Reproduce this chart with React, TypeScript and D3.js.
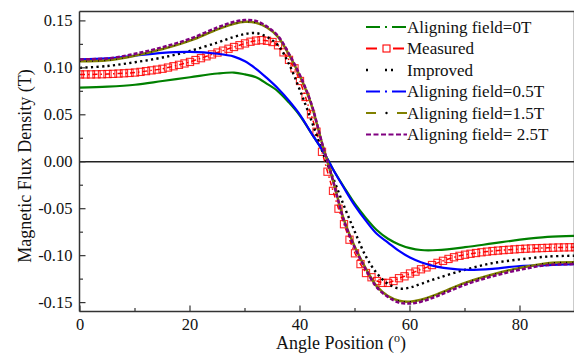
import React from "react";
import * as d3 from "d3";

const angles5 = [0, 5, 10, 15, 20, 25, 28, 30, 32, 34, 36, 38, 40, 42, 44, 45, 46, 48, 50, 52, 54, 56, 58, 60, 62, 65, 70, 75, 80, 85, 90];
const field0T = [0.079, 0.080, 0.082, 0.086, 0.090, 0.094, 0.095, 0.093, 0.090, 0.083, 0.075, 0.063, 0.049, 0.031, 0.013, 0.003, -0.008, -0.027, -0.045, -0.060, -0.073, -0.082, -0.088, -0.092, -0.094, -0.094, -0.091, -0.087, -0.083, -0.080, -0.079];
const field05T = [0.109, 0.110, 0.113, 0.116, 0.117, 0.115, 0.112, 0.107, 0.099, 0.089, 0.078, 0.065, 0.050, 0.031, 0.013, 0.003, -0.008, -0.028, -0.047, -0.063, -0.077, -0.086, -0.095, -0.102, -0.107, -0.112, -0.115, -0.114, -0.111, -0.110, -0.109];
const improved = [0.100, 0.102, 0.106, 0.111, 0.118, 0.127, 0.133, 0.136, 0.137, 0.133, 0.124, 0.104, 0.076, 0.045, 0.012, -0.003, -0.017, -0.047, -0.075, -0.101, -0.119, -0.130, -0.135, -0.134, -0.130, -0.124, -0.115, -0.108, -0.104, -0.101, -0.100];
const field15T = [0.107, 0.108, 0.113, 0.120, 0.129, 0.141, 0.147, 0.149, 0.148, 0.143, 0.133, 0.114, 0.091, 0.062, 0.020, 0.000, -0.020, -0.062, -0.091, -0.114, -0.133, -0.143, -0.148, -0.149, -0.147, -0.141, -0.129, -0.120, -0.113, -0.108, -0.107];
const field25T = [0.109, 0.110, 0.115, 0.122, 0.131, 0.143, 0.149, 0.151, 0.150, 0.144, 0.134, 0.115, 0.092, 0.063, 0.020, 0.000, -0.020, -0.063, -0.092, -0.115, -0.134, -0.144, -0.150, -0.151, -0.149, -0.143, -0.131, -0.122, -0.115, -0.110, -0.109];

const measuredAngles = d3.range(0, 91);
const measured = [
  0.0930, 0.0930, 0.0930, 0.0931, 0.0932, 0.0934, 0.0936, 0.0939, 0.0942, 0.0946,
  0.0950, 0.0957, 0.0965, 0.0973, 0.0981, 0.0990, 0.1003, 0.1017, 0.1032, 0.1047,
  0.1063, 0.1083, 0.1103, 0.1123, 0.1143, 0.1163, 0.1183, 0.1203, 0.1222, 0.1241,
  0.1260, 0.1278, 0.1290, 0.1295, 0.1288, 0.1275, 0.1240, 0.1165, 0.1085, 0.0995,
  0.0860, 0.0690, 0.0505, 0.0320, 0.0106, -0.0106, -0.0310, -0.0500, -0.0665, -0.0830,
  -0.0975, -0.1090, -0.1185, -0.1230, -0.1270, -0.1290, -0.1290, -0.1270, -0.1240, -0.1220,
  -0.1190, -0.1170, -0.1145, -0.1125, -0.1100, -0.1077, -0.1055, -0.1035, -0.1017, -0.1002,
  -0.0990, -0.0980, -0.0972, -0.0964, -0.0957, -0.0951, -0.0946, -0.0941, -0.0937, -0.0933,
  -0.0929, -0.0926, -0.0923, -0.0921, -0.0919, -0.0917, -0.0915, -0.0913, -0.0912, -0.0911,
  -0.0910,
];

const yTicks = [0.15, 0.10, 0.05, 0.0, -0.05, -0.10, -0.15];
const yMinor = [0.125, 0.075, 0.025, -0.025, -0.075, -0.125];
const xTicks = [0, 20, 40, 60, 80];
const xMinor = [10, 30, 50, 70, 90];
const legendLabels = ["Aligning field=0T", "Measured", "Improved", "Aligning field=0.5T", "Aligning field=1.5T", "Aligning field= 2.5T"];

const W = 574, H = 356;
const L = 79.5, R = 575, T = 11.5, B = 311.5;
const FONT = "Liberation Serif";

export default function App() {
  const x = d3.scaleLinear().domain([0, 90]).range([80, R]);
  const y = d3.scaleLinear().domain([-0.16, 0.16]).range([312, 11.5]);
  const line = (xs: number[], ys: number[]) =>
    d3.line<number>().x((_, i) => x(xs[i])).y((v) => y(v)).curve(d3.curveCatmullRom)(ys) || "";
  const linLine = (xs: number[], ys: number[]) =>
    d3.line<number>().x((_, i) => x(xs[i])).y((v) => y(v))(ys) || "";

  const green = "#008000", red = "#ff0000", blue = "#0000ff", olive = "#808000", purple = "#800080";
  const ly = (i: number) => 27 + i * 21.5;
  const lx0 = 366, lx1 = 407;
  const ts = { fontFamily: FONT } as React.CSSProperties;

  return (
    <svg width={W} height={H} style={{ position: "absolute", left: 0, top: 0, background: "#fff", fontFamily: FONT }}>
      <defs>
        <clipPath id="plot">
          <rect x={L} y={T} width={R - L} height={B - T} />
        </clipPath>
      </defs>
      <rect x={0} y={0} width={W} height={H} fill="#fff" />
      <line x1={L} x2={R} y1={y(0)} y2={y(0)} stroke="#222" strokeWidth={1.5} />
      <g clipPath="url(#plot)" fill="none">
        <path d={line(angles5, field0T)} stroke={green} strokeWidth={2.2} />
        <path d={linLine(measuredAngles, measured)} stroke={red} strokeWidth={1.5} strokeDasharray="5,3,1.5,3" />
        {measured.map((v, i) => (
          <rect key={i} x={x(measuredAngles[i]) - 3.6} y={y(v) - 3.6} width={7.2} height={7.2} fill="none" stroke={red} strokeWidth={1.1} strokeOpacity={0.85} />
        ))}
        <path d={line(angles5, improved)} stroke="#000" strokeWidth={2.4} strokeDasharray="2.2,3.3" />
        <path d={line(angles5, field05T)} stroke={blue} strokeWidth={2.2} />
        <path d={line(angles5, field15T)} stroke={olive} strokeWidth={2.5} />
        <path d={line(angles5, field15T)} stroke="#000" strokeWidth={1.2} strokeDasharray="1,5" />
        <path d={line(angles5, field25T)} stroke={purple} strokeWidth={2.5} strokeDasharray="4,2" />
      </g>
      <g stroke="#333" strokeWidth={1.5} fill="none">
        <line x1={L} x2={R} y1={T} y2={T} />
        <line x1={L} x2={L} y1={T} y2={B} />
        <line x1={L} x2={R} y1={B} y2={B} />
        <line x1={R - 0.5} x2={R - 0.5} y1={T} y2={B} />
      </g>
      <g stroke="#333" strokeWidth={1.2}>
        {yTicks.map((t) => <line key={t} x1={L} x2={L + 6} y1={y(t)} y2={y(t)} />)}
        {yMinor.map((t) => <line key={t} x1={L} x2={L + 3.5} y1={y(t)} y2={y(t)} />)}
        {xTicks.map((t) => <line key={t} x1={x(t)} x2={x(t)} y1={B} y2={B - 6} />)}
        {xMinor.map((t) => <line key={t} x1={x(t)} x2={x(t)} y1={B} y2={B - 3.5} />)}
      </g>
      <g fontSize={16.5} fill="#111" style={ts}>
        {yTicks.map((t) => (
          <text key={t} x={72.5} y={y(t) + 5.5} textAnchor="end" style={ts}>{d3.format(".2f")(t).replace("−", "-")}</text>
        ))}
        {xTicks.map((t) => (
          <text key={t} x={x(t)} y={330} textAnchor="middle" style={ts}>{t}</text>
        ))}
      </g>
      <text x={341} y={349} textAnchor="middle" fontSize={18} fill="#111" style={ts}>
        Angle Position (<tspan fontSize={12} dy={-7}>o</tspan><tspan dy={7}>)</tspan>
      </text>
      <text transform={`translate(31,166) rotate(-90)`} textAnchor="middle" fontSize={18} fill="#111" style={ts}>
        Magnetic Flux Density (T)
      </text>
      <g fill="none">
        <line x1={lx0} x2={lx1} y1={ly(0)} y2={ly(0)} stroke={green} strokeWidth={2} strokeDasharray="14,5,2,5" />
        <line x1={lx0} x2={lx1} y1={ly(1)} y2={ly(1)} stroke={red} strokeWidth={2} strokeDasharray="11,16,11" />
        <rect x={(lx0 + lx1) / 2 - 3.5} y={ly(1) - 3.5} width={7} height={7} stroke={red} strokeWidth={1.1} />
        <line x1={lx0} x2={lx1} y1={ly(2)} y2={ly(2)} stroke="#000" strokeWidth={2.5} strokeDasharray="2,17,2,4" />
        <line x1={lx0} x2={lx1} y1={ly(3)} y2={ly(3)} stroke={blue} strokeWidth={2} strokeDasharray="14,5,2,5" />
        <line x1={lx0} x2={lx1} y1={ly(4)} y2={ly(4)} stroke={olive} strokeWidth={2} strokeDasharray="10,21,10" />
        <circle cx={(lx0 + lx1) / 2} cy={ly(4)} r={1.2} fill="#000" />
        <line x1={lx0} x2={lx1} y1={ly(5)} y2={ly(5)} stroke={purple} strokeWidth={2.2} strokeDasharray="5,2.5" />
      </g>
      <g fontSize={17} fill="#111" style={ts}>
        {legendLabels.map((s, i) => (
          <text key={s} x={407} y={ly(i) + 5.5} style={ts}>{s}</text>
        ))}
      </g>
    </svg>
  );
}
